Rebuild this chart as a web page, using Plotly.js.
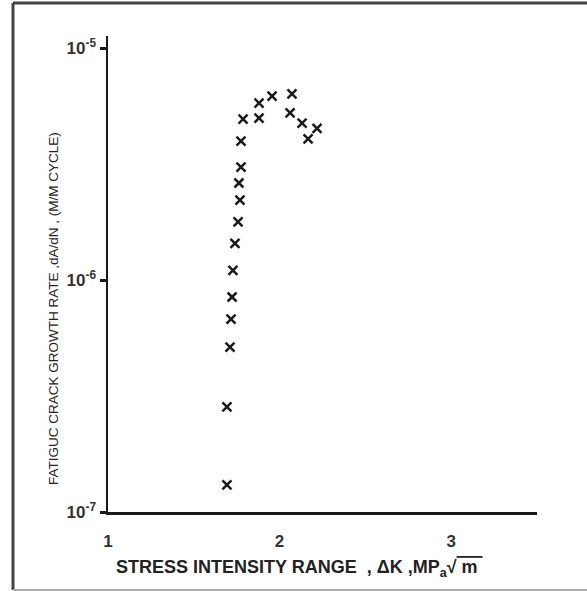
<!DOCTYPE html>
<html>
<head>
<meta charset="utf-8">
<script src="https://cdn.plot.ly/plotly-3.0.1.min.js"></script>
<style>
  html, body { margin: 0; padding: 0; background: #ffffff; }
  #chart { width: 587px; height: 591px; }
</style>
</head>
<body>
<div id="chart"></div>
<script>
// Stress intensity range, ΔK (MPa·√m)
var deltaK = [1.693, 1.693, 1.711, 1.717, 1.723, 1.728, 1.740, 1.758, 1.769, 1.763,
              1.775, 1.775, 1.787, 1.880, 1.880, 1.956, 2.072, 2.061, 2.131, 2.218, 2.166];
// Fatigue crack growth rate, dA/dN (m/cycle)
var growthRate = [1.31e-7, 2.84e-7, 5.14e-7, 6.79e-7, 8.45e-7, 1.10e-6, 1.44e-6, 1.78e-6, 2.21e-6, 2.62e-6,
                  3.07e-6, 3.97e-6, 4.94e-6, 4.99e-6, 5.79e-6, 6.21e-6, 6.34e-6, 5.25e-6, 4.75e-6, 4.51e-6, 4.06e-6];

var xTickVals = [1, 2, 3];
var xTickText = ['1', '2', '3'];
var yTickVals = [1e-7, 1e-6, 1e-5];
var yTickText = ['10<sup>-7</sup>', '10<sup>-6</sup>', '10<sup>-5</sup>'];

// tick marks drawn below the x axis (none at the origin) and small side ticks on the y axis
var xTickMarks = [2, 3];
var yTickMarks = [3.74e-6, 6.5e-7];

var xTitle = 'STRESS INTENSITY RANGE  , \u0394K ,MP<sub>a</sub>\u221A<span style="text-decoration:overline"> m </span>';
var yTitle = 'FATIGUC CRACK GROWTH RATE ,dA/dN , (M/M CYCLE)';

var ink = '#1a1a1a';
var textFont = 'Liberation Sans, Arial, sans-serif';
var xRange = [1, 3.5];
var yRange = [-7, -4.948];

var trace = {
  x: deltaK,
  y: growthRate,
  type: 'scatter',
  mode: 'markers',
  marker: { symbol: 'x-thin', size: 9, color: ink, line: { width: 2.5, color: ink } },
  hoverinfo: 'x+y'
};

var layout = {
  width: 587,
  height: 591,
  margin: { l: 108, r: 50, t: 36, b: 79 },
  paper_bgcolor: '#ffffff',
  plot_bgcolor: '#ffffff',
  showlegend: false,
  xaxis: {
    range: xRange,
    showgrid: false,
    zeroline: false,
    showline: true,
    linecolor: ink,
    linewidth: 3,
    tickvals: xTickVals,
    ticktext: xTickText,
    ticks: '',
    ticklabelstandoff: 12,
    tickfont: { family: textFont, size: 17, color: '#333', weight: 'bold' }
  },
  xaxis2: {
    overlaying: 'x',
    anchor: 'y',
    side: 'bottom',
    range: xRange,
    showgrid: false,
    zeroline: false,
    showline: false,
    showticklabels: false,
    tickvals: xTickMarks,
    ticks: 'outside',
    ticklen: 13,
    tickwidth: 3,
    tickcolor: ink
  },
  yaxis: {
    type: 'log',
    range: yRange,
    showgrid: false,
    zeroline: false,
    showline: true,
    linecolor: ink,
    linewidth: 2.5,
    tickvals: yTickVals,
    ticktext: yTickText,
    ticks: 'outside',
    ticklen: 6,
    tickwidth: 3,
    tickcolor: ink,
    tickfont: { family: textFont, size: 17, color: '#333', weight: 'bold' }
  },
  yaxis2: {
    overlaying: 'y',
    anchor: 'x',
    side: 'left',
    type: 'log',
    range: yRange,
    showgrid: false,
    zeroline: false,
    showline: false,
    showticklabels: false,
    tickvals: yTickMarks,
    ticks: 'outside',
    ticklen: 3,
    tickwidth: 2,
    tickcolor: '#555'
  },
  annotations: [
    {
      text: xTitle, xref: 'paper', yref: 'paper',
      x: (299 - 108) / 429, y: (512 - 568) / 476,
      xanchor: 'center', yanchor: 'middle', showarrow: false,
      font: { family: textFont, size: 18, color: '#222', weight: 'bold' }
    },
    {
      text: yTitle, xref: 'paper', yref: 'paper',
      x: (53 - 108) / 429, y: (512 - 309) / 476,
      xanchor: 'center', yanchor: 'middle', showarrow: false, textangle: -90,
      font: { family: textFont, size: 13.5, color: '#222' }
    }
  ],
  shapes: [
    // frame around the figure
    { type: 'line', xref: 'paper', yref: 'paper',
      x0: (13 - 108) / 429, x1: (13 - 108) / 429, y0: (512 - 3) / 476, y1: (512 - 590) / 476,
      line: { color: '#444', width: 3 } },
    { type: 'line', xref: 'paper', yref: 'paper',
      x0: (13 - 108) / 429, x1: (590 - 108) / 429, y0: (512 - 3) / 476, y1: (512 - 3) / 476,
      line: { color: '#444', width: 3 } },
    { type: 'line', xref: 'paper', yref: 'paper',
      x0: (13 - 108) / 429, x1: (590 - 108) / 429, y0: (512 - 590) / 476, y1: (512 - 590) / 476,
      line: { color: '#aaa', width: 2 } }
  ]
};

Plotly.newPlot('chart', [trace], layout, { displayModeBar: false, staticPlot: true });
</script>
</body>
</html>
